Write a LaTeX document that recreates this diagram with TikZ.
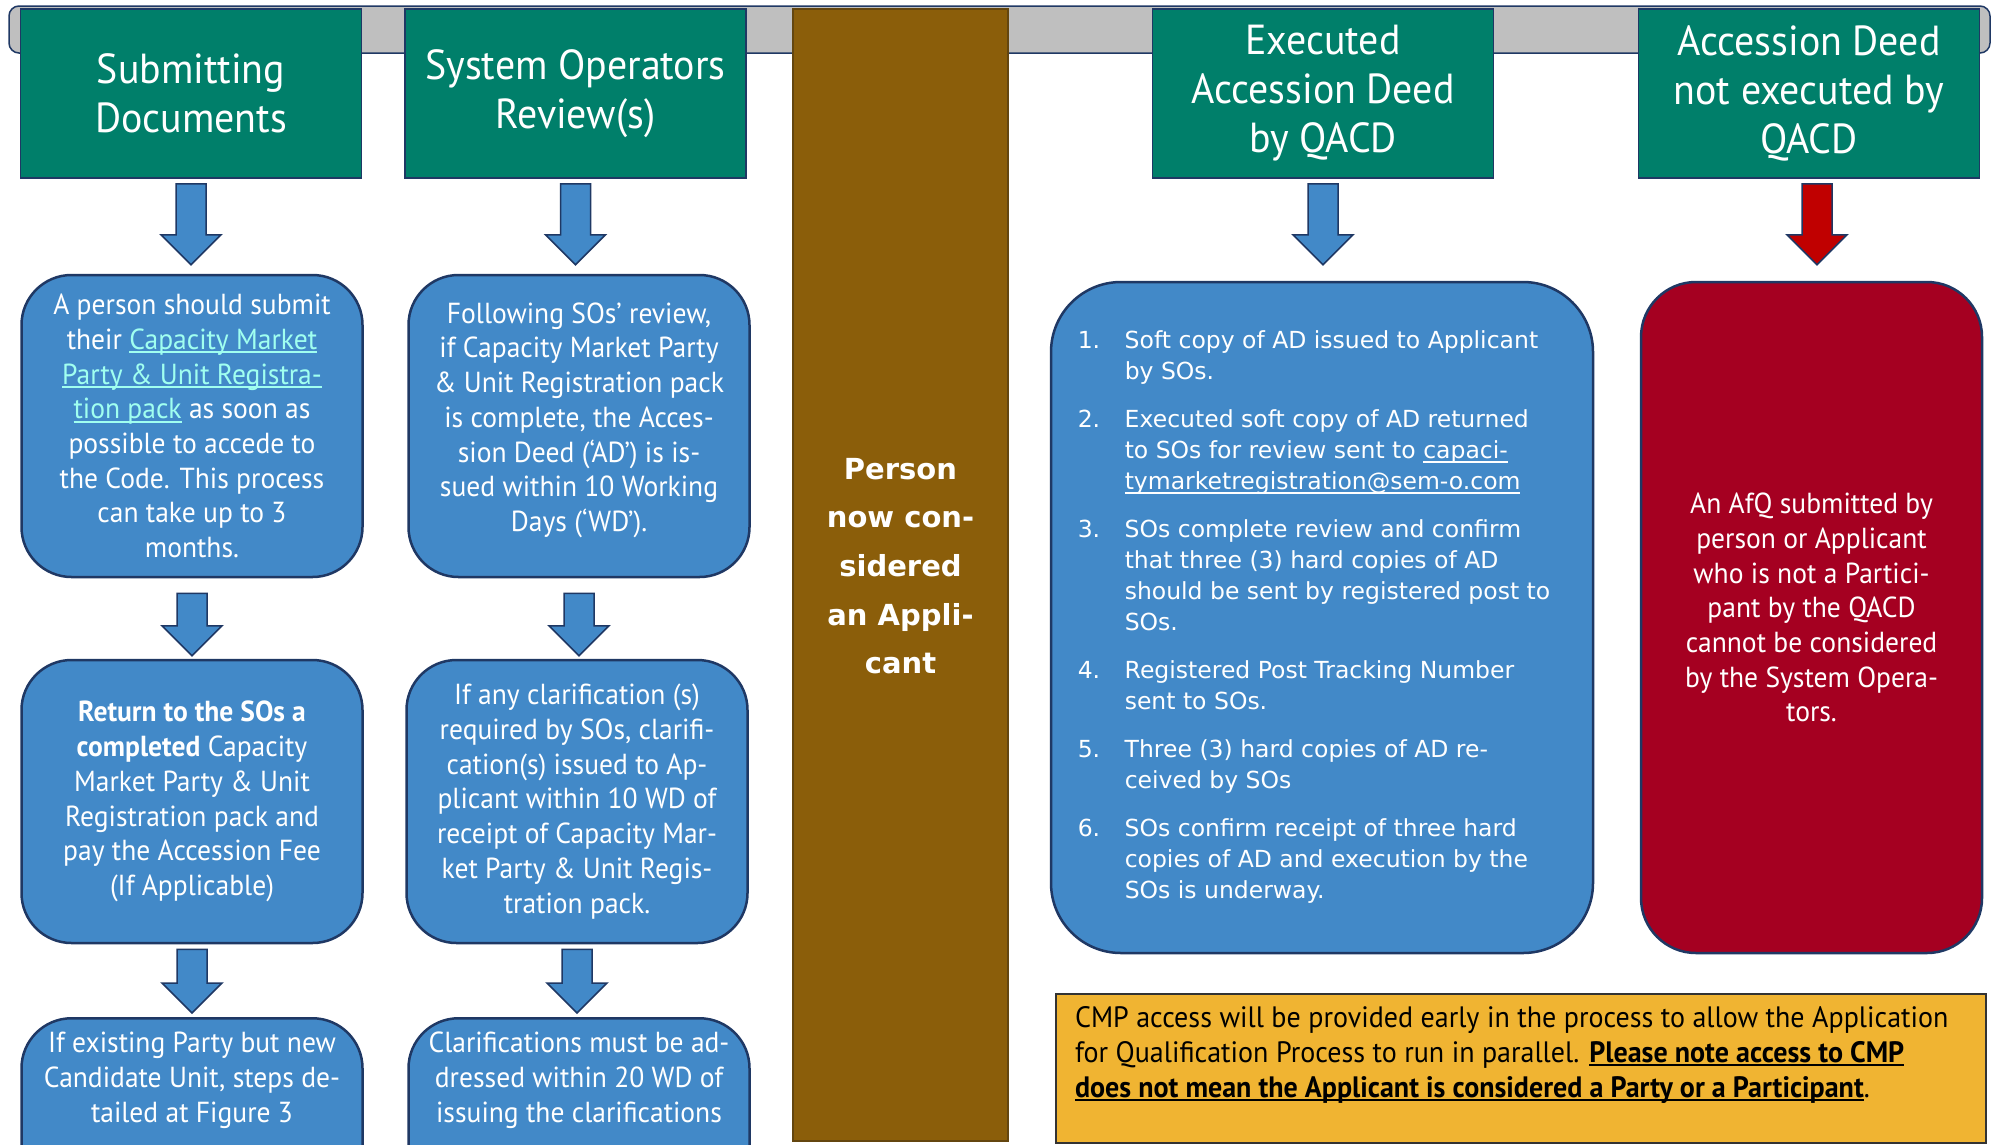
\documentclass[tikz,border=0pt]{standalone}
\usepackage{fontspec}
\setmainfont{PT Sans}[FakeStretch=0.95]
\newfontfamily\listfont{DejaVu Sans}
\usetikzlibrary{calc}

\definecolor{headteal}{RGB}{0,127,106}
\definecolor{stepblue}{RGB}{66,137,200}
\definecolor{edgenavy}{RGB}{31,56,100}
\definecolor{denyred}{RGB}{165,0,33}
\definecolor{arrowred}{RGB}{192,0,0}
\definecolor{appbrown}{RGB}{139,94,10}
\definecolor{appbrownedge}{RGB}{100,70,15}
\definecolor{bargrey}{RGB}{191,191,191}
\definecolor{noteyellow}{RGB}{240,180,50}
\definecolor{linkcyan}{RGB}{160,255,240}

\newsavebox\ulbox
\newcommand{\ulined}[1]{\sbox\ulbox{#1}\rlap{\rule[-4pt]{\wd\ulbox}{2.2pt}}\usebox\ulbox}
\newcommand{\linktext}[1]{\textcolor{linkcyan}{\ulined{#1}}}

% block arrow from point #2 down to the top of #3, gaps #4 and #5
\newcommand{\blockarrow}[5][stepblue]{%
  \draw[draw=edgenavy, line width=1.5pt, fill=#1, line join=miter]
    ($(#2)+(-15,#4)$) -- ($(#2)+(15,#4)$)
    -- ($(#2 |- #3)+(15,-#5-30)$) -- ($(#2 |- #3)+(30,-#5-30)$)
    -- ($(#2 |- #3)+(0,-#5)$) -- ($(#2 |- #3)+(-30,-#5-30)$)
    -- ($(#2 |- #3)+(-15,-#5-30)$) -- cycle;}

\begin{document}
\begin{tikzpicture}[x=1pt, y=-1pt,
  headbox/.style={draw=edgenavy, line width=1.5pt, fill=headteal, text=white,
    minimum width=341pt, minimum height=169pt, inner sep=0pt, align=center,
    font=\fontsize{42}{49}\selectfont},
  stepbox/.style={draw=edgenavy, line width=2.5pt, fill=stepblue, text=white,
    rounded corners=50pt, minimum width=341pt, inner sep=0pt, align=center,
    font=\fontsize{29}{34.7}\selectfont},
  openbox/.style={stepbox, anchor=north, inner ysep=14pt, text depth=160pt}]
\clip (0,0) rectangle (1993,1144);
\fill[white] (0,0) rectangle (1993,1144);

% timeline bar behind the headers
\draw[draw=edgenavy, line width=1.5pt, fill=bargrey, rounded corners=10pt] (9,6) rectangle (1990,53);

% headers
\node[headbox] (submit) at (191,93.5) {Submitting\\Documents};
\node[headbox] (review) at (575.5,93.5) {System Operators\\Review(s)};
\node[headbox] (executed) at (1323,93.5) {Executed\\Accession Deed\\by QACD};
\node[headbox] (notexec) at (1809,93.5) {Accession Deed\\not executed by\\QACD};

% applicant column
\node[draw=appbrownedge, line width=1.5pt, fill=appbrown, text=white,
  minimum width=215pt, minimum height=1132pt, align=center, text depth=18pt,
  font=\listfont\bfseries\fontsize{29}{48.7}\selectfont] (applicant) at (900.5,575)
  {Person\\now con-\\sidered\\an Appli-\\cant};

% submitting documents
\node[stepbox, minimum height=302pt] (submitpack) at (192,426)
  {A person should submit\\
   their \linktext{Capacity Market}\\
   \linktext{Party \& Unit Registra-}\\
   \linktext{tion pack} as soon as\\
   possible to accede to\\
   the Code. This process\\
   can take up to 3\\
   months.};
\node[stepbox, minimum height=283pt] (returnpack) at (192,801.5)
  {\textbf{Return to the SOs a}\\
   \textbf{completed} Capacity\\
   Market Party \& Unit\\
   Registration pack and\\
   pay the Accession Fee\\
   (If Applicable)};
\node[openbox] (existing) at (192,1017)
  {If existing Party but new\\
   Candidate Unit, steps de-\\
   tailed at Figure 3};

% system operators review
\node[stepbox, minimum height=302pt, text depth=18pt] (sosreview) at (579,426)
  {Following SOs’ review,\\
   if Capacity Market Party\\
   \& Unit Registration pack\\
   is complete, the Acces-\\
   sion Deed (‘AD’) is is-\\
   sued within 10 Working\\
   Days (‘WD’).};
\node[stepbox, minimum height=283pt] (clarify) at (577,801.5)
  {If any clarification (s)\\
   required by SOs, clarifi-\\
   cation(s) issued to Ap-\\
   plicant within 10 WD of\\
   receipt of Capacity Mar-\\
   ket Party \& Unit Regis-\\
   tration pack.};
\node[openbox] (deadline) at (579,1017)
  {Clarifications must be ad-\\
   dressed within 20 WD of\\
   issuing the clarifications};

% executed accession deed
\node[stepbox, rounded corners=70pt, minimum width=542pt, minimum height=671pt,
  align=left, font=\listfont\fontsize{23.5}{31}\selectfont] (adsteps) at (1322,617.5)
  {\begin{tabular}{@{}p{47pt}@{}l@{\hspace{16pt}}}
   1. & Soft copy of AD issued to Applicant\\
      & by SOs.\\[17pt]
   2. & Executed soft copy of AD returned\\
      & to SOs for review sent to \ulined{capaci-}\\
      & \ulined{tymarketregistration@sem-o.com}\\[17pt]
   3. & SOs complete review and confirm\\
      & that three (3) hard copies of AD\\
      & should be sent by registered post to\\
      & SOs.\\[17pt]
   4. & Registered Post Tracking Number\\
      & sent to SOs.\\[17pt]
   5. & Three (3) hard copies of AD re-\\
      & ceived by SOs\\[17pt]
   6. & SOs confirm receipt of three hard\\
      & copies of AD and execution by the\\
      & SOs is underway.
   \end{tabular}};

% accession deed not executed
\node[stepbox, fill=denyred, rounded corners=55pt, minimum height=671pt, text depth=20pt]
  (afqdenied) at (1811.5,617.5)
  {An AfQ submitted by\\
   person or Applicant\\
   who is not a Partici-\\
   pant by the QACD\\
   cannot be considered\\
   by the System Opera-\\
   tors.};

% note on CMP access
\node[draw=black!80, line width=1.5pt, fill=noteyellow, anchor=north west,
  minimum width=930pt, minimum height=149pt, inner xsep=0pt, text depth=33pt,
  align=left, font=\fontsize{29.5}{35}\selectfont] (cmpnote) at (1055,993)
  {CMP access will be provided early in the process to allow the Application\hspace*{18pt}\\
   for Qualification Process to run in parallel. \textbf{\ulined{Please note access to CMP}}\\
   \textbf{\ulined{does not mean the Applicant is considered a Party or a Participant}}.};

% arrows
\coordinate (notexecfoot) at ($(notexec.south)+(8,0)$);
\blockarrow{submit.south}{submitpack.north}{5}{9}
\blockarrow{submitpack.south}{returnpack.north}{15}{3}
\blockarrow{returnpack.south}{existing.north}{5}{4}
\blockarrow{review.south}{sosreview.north}{5}{9}
\blockarrow{sosreview.south}{clarify.north}{15}{3}
\blockarrow{clarify.south}{deadline.north}{5}{4}
\blockarrow{executed.south}{adsteps.north}{5}{16}
\blockarrow[arrowred]{notexecfoot}{afqdenied.north}{5}{16}
\end{tikzpicture}
\end{document}
